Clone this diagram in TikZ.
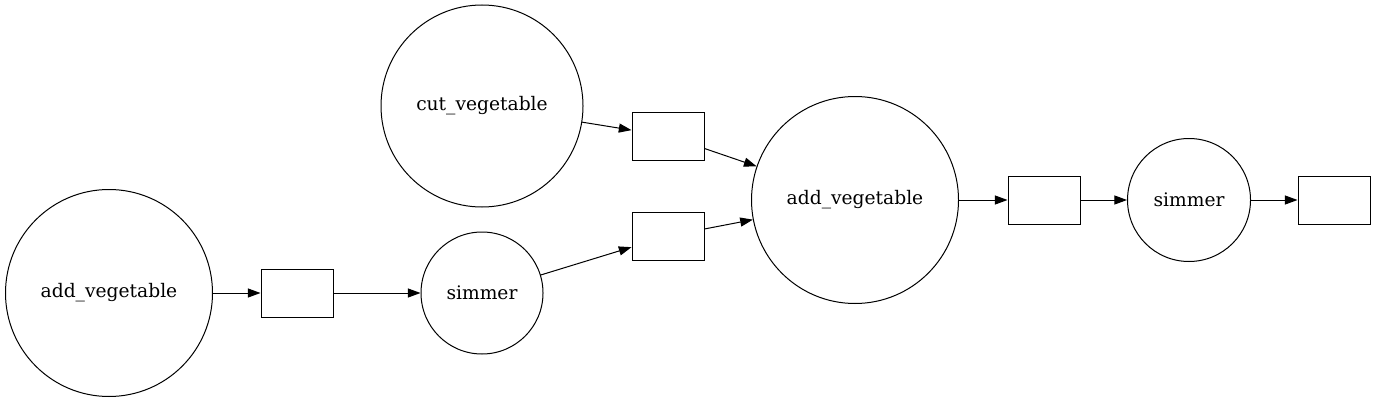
\documentclass[tikz,border=0pt]{standalone}
\usepackage{fontspec}
\setmainfont{DejaVu Serif}
\usetikzlibrary{arrows.meta}
\begin{document}
\begin{tikzpicture}[x=0.75pt,y=-0.75pt,
  proc/.style={draw,circle,inner sep=0pt,line width=0.75pt,font=\fontsize{14}{16}\selectfont},
  data/.style={draw,rectangle,line width=0.75pt,minimum width=54pt,minimum height=36pt,inner sep=0pt},
  conn/.style={-{Triangle[length=9.5pt,width=6.8pt]},line width=0.75pt}]
\useasboundingbox (0,0) rectangle (1376,403);
\node[proc,minimum size=202*0.75pt] (cut) at (482,106) {cut\_vegetable};
\node[proc,minimum size=207*0.75pt] (addl) at (109,293) {add\_vegetable};
\node[data] (r1) at (297,293) {};
\node[proc,minimum size=122*0.75pt] (sim1) at (482,293) {simmer};
\node[data] (r2) at (668,136) {};
\node[data] (r3) at (668,236) {};
\node[proc,minimum size=207*0.75pt] (addm) at (855,200) {add\_vegetable};
\node[data] (r4) at (1044,200) {};
\node[proc,minimum size=123*0.75pt] (sim2) at (1189,200) {simmer};
\node[data] (r5) at (1334,200) {};
\draw[conn] (cut) -- (r2);
\draw[conn] (r2) -- (addm);
\draw[conn] (addl) -- (r1);
\draw[conn] (r1) -- (sim1);
\draw[conn] (sim1) -- (r3);
\draw[conn] (r3) -- (addm);
\draw[conn] (addm) -- (r4);
\draw[conn] (r4) -- (sim2);
\draw[conn] (sim2) -- (r5);
\end{tikzpicture}
\end{document}
